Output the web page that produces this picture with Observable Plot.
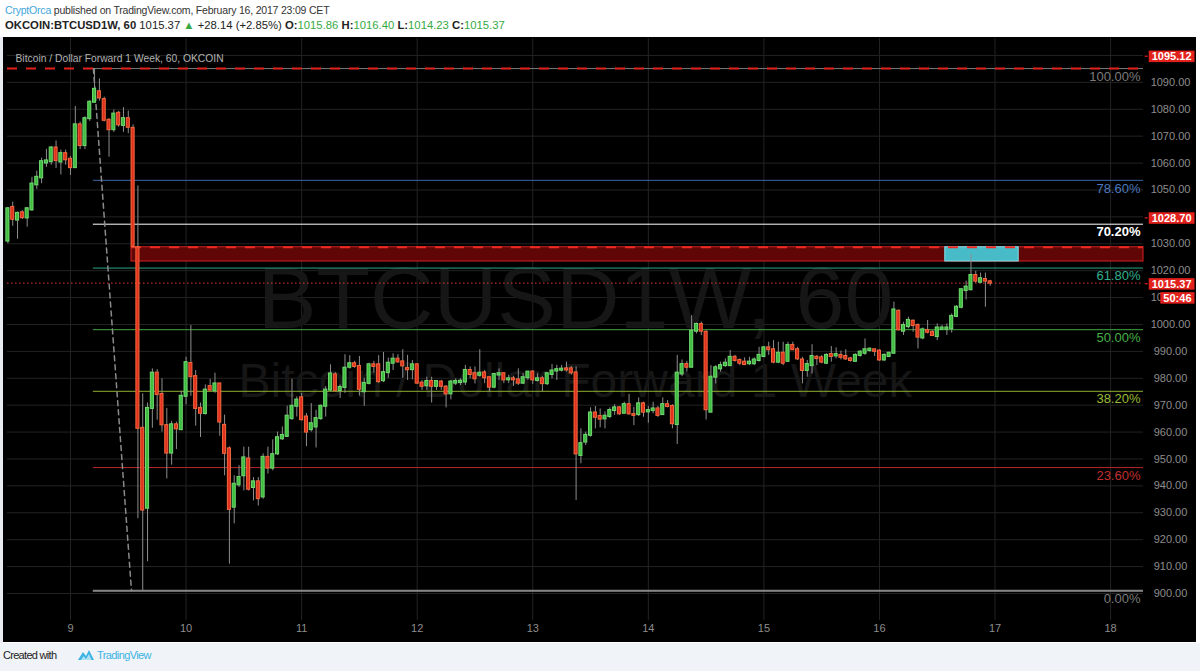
<!DOCTYPE html>
<html>
<head>
<meta charset="utf-8">
<script src="https://cdn.jsdelivr.net/npm/d3@7"></script>
<script src="https://cdn.jsdelivr.net/npm/@observablehq/plot@0.6"></script>
<style>
  html, body { margin: 0; padding: 0; }
  body { width: 1200px; height: 671px; overflow: hidden; background: #ffffff; position: relative;
         font-family: "Liberation Sans", Arial, sans-serif; }
  #h1 { position: absolute; left: 5px; top: 4px; font-size: 10.5px; letter-spacing: -0.2px; color: #333; white-space: nowrap; }
  #h2 { position: absolute; left: 5px; top: 19px; font-size: 11.3px; color: #222; white-space: nowrap; }
  #h2 .g { color: #36a944; }
  #chart { position: absolute; left: 3px; top: 37px; }
  #leftstrip { position: absolute; left: 0; top: 37px; width: 3px; height: 606px; background: #e9ecf0; }
  #footer { position: absolute; left: 0; top: 643px; width: 1200px; height: 28px; background: #f0f3f7; }
  #footer .t { position: absolute; left: 3px; top: 6px; font-size: 11px; letter-spacing: -0.7px; color: #222; }
  #footer .tv { position: absolute; left: 97px; top: 6px; font-size: 11px; letter-spacing: -0.6px; color: #3bb3e4; }
  #footer svg { position: absolute; left: 77px; top: 5px; }
</style>
</head>
<body>
<div id="h1"><span style="color:#3ea6d9">CryptOrca</span> published on TradingView.com, February 16, 2017 23:09 CET</div>
<div id="h2"><b>OKCOIN:BTCUSD1W, 60</b> 1015.37 <span class="g">▲</span> +28.14 (+2.85%) <b>O:</b><span class="g">1015.86</span> <b>H:</b><span class="g">1016.40</span> <b>L:</b><span class="g">1014.23</span> <b>C:</b><span class="g">1015.37</span></div>
<div id="leftstrip"></div>
<div id="chart"></div>
<div id="footer">
  <span class="t">Created with</span>
  <svg width="18" height="14" viewBox="0 0 18 14"><path d="M1 12 L6 4 L9 8 L12 2 L17 12 Z" fill="#3bb3e4"/><path d="M4 12 L6.5 8 L9 11 L12 6 L14.5 12 Z" fill="#ffffff" opacity="0.6"/></svg>
  <span class="tv">TradingView</span>
</div>
<script>
// ---------------- DATA ----------------
const startTime = "2017-02-08T11:00:00Z"; // first hourly candle
const opens = [1031.0,1043.5,1038.8,1041.5,1039.6,1042.6,1051.9,1054.5,1060.0,1060.5,1065.6,1060.4,1063.5,1061.4,1058.3,1074.2,1066.5,1076.5,1082.6,1086.5,1083.6,1075.9,1072.4,1078.5,1074.0,1076.5,1072.9,1028.5,961.4,931.7,968.8,981.9,974.0,962.4,952.2,962.7,960.9,973.3,985.5,980.6,968.8,966.9,976.9,975.4,977.9,962.5,953.75,932.1,940.4,943.75,950.0,939.4,941.5,935.9,950.6,946.6,951.9,957.5,958.4,965.0,969.6,972.75,965.6,960.9,961.9,965.0,969.6,975.6,981.25,975.4,976.6,984.1,985.4,984.4,975.0,978.1,985.0,985.0,979.1,982.1,985.6,987.1,986.1,983.6,983.2,985.0,978.2,977.2,978.8,977.0,978.6,976.7,974.2,978.2,978.4,978.6,982.9,981.7,981.1,982.0,980.2,976.7,981.2,981.7,979.4,979.8,979.4,978.2,980.2,982.3,979.2,979.8,978.0,981.4,982.7,983.0,983.5,983.5,982.0,951.3,956.3,958.8,967.1,965.8,964.9,965.8,968.0,969.0,967.0,970.2,966.5,966.5,970.5,967.5,968.0,968.6,966.5,970.2,969.5,962.8,981.6,985.1,984.1,997.5,1000.0,997.1,967.4,980.4,983.5,984.7,984.7,987.8,986.6,986.0,985.4,985.4,986.6,988.1,991.3,990.6,986.0,989.3,986.3,992.2,990.6,986.8,982.9,984.7,987.8,987.6,985.6,988.8,988.3,988.5,988.1,987.2,986.3,988.5,989.3,990.3,990.6,990.1,986.8,988.1,989.3,1004.9,997.5,999.2,1001.2,999.6,995.0,997.7,997.1,995.5,998.2,998.2,998.4,1003.0,1006.4,1012.6,1012.9,1018.2,1015.7,1016.7,1015.86];
const highs = [1043.5,1045.5,1041.8,1042.3,1043.5,1054.7,1057.0,1061.8,1065.1,1066.2,1068.2,1064.8,1064.8,1062.4,1081.0,1075.2,1077.2,1083.2,1095.12,1091.3,1084.5,1076.5,1079.7,1079.2,1080.6,1079.3,1074.2,1051.5,974.2,970.8,983.5,983.2,979.8,968.8,964.0,963.7,975.2,987.8,999.6,982.9,970.8,977.5,979.6,981.9,978.1,966.3,954.5,943.75,947.5,954.4,954.4,943.1,943.1,951.9,954.4,957.1,960.0,961.9,969.6,979.6,973.1,974.4,966.9,970.6,968.1,970.0,976.9,985.0,982.1,977.5,988.75,988.4,986.3,988.1,980.0,985.6,986.3,988.4,989.6,987.5,989.1,988.75,990.6,988.5,986.6,985.4,979.2,980.4,980.4,979.2,979.2,977.3,979.2,979.8,979.8,984.8,984.2,984.2,990.6,982.9,980.7,981.9,983.5,981.9,981.1,980.7,983.5,981.7,982.3,982.9,981.7,980.7,981.9,985.1,984.8,984.8,986.0,984.4,984.2,961.2,960.0,969.0,969.5,968.6,967.5,969.0,970.2,969.5,971.1,974.0,969.2,972.7,971.1,969.5,971.1,969.5,972.7,971.7,970.2,988.5,986.8,986.3,1003.3,1000.5,1000.9,997.7,984.7,984.7,986.0,987.2,990.3,988.5,987.2,987.6,987.8,987.6,991.5,991.8,993.4,994.0,993.4,993.4,993.4,993.4,991.5,987.8,986.6,992.5,988.5,988.5,989.1,991.8,991.3,990.1,990.6,987.8,989.1,990.3,994.6,991.3,990.6,990.6,989.1,989.7,1008.3,1005.4,1000.8,1002.7,1001.7,1000.2,998.7,1001.5,997.7,1000.2,999.6,1000.2,1003.9,1007.0,1013.2,1016.1,1026.0,1019.8,1019.1,1019.1,1016.40];
const lows = [1030.0,1036.5,1031.7,1039.0,1036.2,1042.0,1050.2,1052.3,1058.4,1059.2,1058.0,1055.6,1059.2,1055.4,1058.0,1065.0,1065.0,1075.5,1082.3,1083.0,1075.3,1062.2,1071.4,1073.3,1071.4,1070.9,1028.5,927.8,901.0,911.8,961.4,964.4,960.0,942.6,947.7,953.5,960.5,970.1,973.3,962.2,958.0,966.3,975.0,974.4,958.4,943.75,910.9,925.9,939.4,938.1,938.1,934.4,932.5,935.0,944.4,945.6,951.3,956.9,958.1,964.4,965.6,964.1,954.6,960.0,954.1,964.4,965.6,975.0,975.0,972.5,974.4,983.4,983.75,973.4,969.6,977.5,981.9,978.1,978.4,980.0,982.9,985.6,980.0,979.2,979.4,977.7,975.5,975.5,970.8,975.5,975.5,969.0,972.0,977.3,977.3,977.3,979.8,977.9,980.4,978.0,974.9,976.1,979.2,978.0,978.0,977.0,977.3,977.7,979.2,977.7,978.6,974.9,977.3,979.8,979.2,982.3,982.3,981.1,934.6,948.2,955.0,958.1,961.2,961.6,961.2,965.0,966.2,966.2,966.8,966.2,962.4,965.8,965.5,963.3,966.8,965.5,966.2,969.0,961.2,955.4,980.6,982.3,984.1,996.5,995.9,964.5,967.4,977.9,982.3,984.1,984.4,986.0,984.7,984.7,984.7,984.7,986.0,987.6,988.5,985.4,985.4,984.7,986.0,990.3,986.6,977.9,980.4,981.6,984.7,985.4,985.1,986.0,987.2,986.8,986.6,986.0,986.0,987.8,988.5,989.7,988.1,986.3,986.3,987.8,989.1,997.7,995.9,998.4,997.1,990.9,994.3,996.5,995.5,994.0,997.7,995.9,996.8,1002.5,1005.8,1009.1,1012.6,1015.3,1015.1,1006.4,1014.23];
const closes = [1043.0,1039.1,1041.3,1039.7,1043.0,1052.2,1054.7,1060.5,1060.8,1065.6,1060.9,1063.5,1061.2,1058.3,1074.2,1066.5,1076.5,1082.6,1087.4,1084.2,1075.9,1072.4,1078.2,1074.2,1076.5,1073.3,1029.1,961.4,931.0,968.8,981.9,974.0,962.7,952.2,962.7,961.2,973.3,985.8,980.6,968.8,967.0,975.6,975.6,977.9,963.75,952.1,931.25,940.6,943.1,950.4,938.75,941.5,935.25,950.6,946.6,951.6,957.9,958.75,965.9,969.6,971.9,964.6,960.0,963.1,965.0,969.6,975.6,981.6,975.4,976.6,983.75,985.4,984.4,975.9,978.1,985.0,984.4,978.75,982.1,985.6,987.1,986.1,984.6,983.2,985.0,978.2,977.0,978.8,977.0,978.8,977.0,974.2,978.6,978.8,978.9,982.9,981.4,979.8,981.9,980.2,976.7,981.4,981.7,979.4,979.8,979.4,978.2,980.2,982.3,979.4,979.8,978.0,981.7,982.7,983.2,983.4,983.1,982.0,951.9,955.7,958.8,967.1,965.5,964.8,965.9,968.0,969.0,966.8,970.2,966.8,966.2,970.5,967.4,968.0,968.6,966.2,970.2,969.5,963.1,981.9,985.1,984.1,997.5,1000.0,997.5,968.3,980.4,983.9,984.7,985.6,987.8,986.6,985.6,985.1,986.0,986.8,988.5,991.3,990.6,986.0,989.3,985.6,992.2,990.6,987.2,982.9,985.1,988.1,987.3,986.0,988.5,988.1,988.8,987.8,987.2,986.6,988.5,989.7,990.6,990.8,990.0,986.8,988.5,989.3,1005.4,998.0,999.6,1001.5,999.6,995.3,998.0,997.1,995.9,998.7,998.7,998.7,1003.0,1006.4,1012.9,1013.9,1018.2,1016.1,1017.0,1016.1,1015.37];

// Fibonacci retracement (drawn from the high to the low)
const fibHigh = 1095.12;
const fibLow = 901.0;
const fibRatios = [0, 0.236, 0.382, 0.5, 0.618, 0.702, 0.786, 1];
const fibLabels = ["0.00%", "23.60%", "38.20%", "50.00%", "61.80%", "70.20%", "78.60%", "100.00%"];
const fibLineColors = ["#7a7a7a", "#b3262b", "#8fae2e", "#3fa842", "#2ea585", "#ffffff", "#3f67a6", "#7a7a7a"];
const fibTextColors = ["#7a7a7a", "#c0302f", "#9cba36", "#46b046", "#33b08e", "#ffffff", "#4c78bd", "#7a7a7a"];
const fibStartTime = "2017-02-09T04:45:00Z";
const fibEndTime = "2017-02-09T12:40:00Z";

// Resistance zone and target box
const zoneLow = 1023.4;
const zoneHigh = 1028.7;
const zoneStartTime = "2017-02-09T12:40:00Z";
const boxStartTime = "2017-02-16T13:40:00Z";
const boxEndTime = "2017-02-17T04:55:00Z";
const lastPrice = 1015.37;

// Axis ticks (1040 and 1100 are hidden behind price tags in the original)
const priceTicks = [900, 910, 920, 930, 940, 950, 960, 970, 980, 990, 1000, 1010, 1020, 1030, 1040, 1050, 1060, 1070, 1080, 1090, 1100];
const priceLabelTicks = [900, 910, 920, 930, 940, 950, 960, 970, 980, 990, 1000, 1010, 1020, 1030, 1050, 1060, 1070, 1080, 1090];
const dayTicks = ["2017-02-09", "2017-02-10", "2017-02-11", "2017-02-12", "2017-02-13", "2017-02-14", "2017-02-15", "2017-02-16", "2017-02-17", "2017-02-18"];
const tagHigh = {v: 1095.12, label: "1095.12"};
const tagLine = {v: 1028.70, label: "1028.70"};
const tagLast = {v: 1015.37, label: "1015.37"};
const countdownLabel = "50:46";
const titleText = "Bitcoin / Dollar Forward 1 Week, 60, OKCOIN";
const watermark1 = "BTCUSD1W, 60";
const watermark2 = "Bitcoin / Dollar Forward 1 Week";

// ---------------- BUILD ----------------
const HOUR = 3600e3;
const t0 = Date.parse(startTime);
const candles = opens.map((o, i) => ({
  t: new Date(t0 + i * HOUR),
  o, h: highs[i], l: lows[i], c: closes[i],
  up: closes[i] >= o
}));
const fibs = fibRatios.map((r, i) => ({
  v: fibLow + r * (fibHigh - fibLow),
  label: fibLabels[i], line: fibLineColors[i], text: fibTextColors[i]
}));
const xStart = new Date("2017-02-08T10:55:00Z");
const xEnd = new Date("2017-02-18T06:50:00Z");
const fibStart = new Date(fibStartTime), fibEnd = new Date(fibEndTime);
const zoneStart = new Date(zoneStartTime);
const days = dayTicks.map(d => new Date(d + "T00:00:00Z"));
const halfW = 0.32 * HOUR;
const TAG = "#fffffe";
const tagText = (d, dy) => Plot.text([d], {y: "v", frameAnchor: "right", dx: 48, dy, textAnchor: "end", text: "label", fill: TAG, fontWeight: "bold", fontSize: 11});

const W = 1193, H = 605;
const plot = Plot.plot({
  width: W, height: H,
  marginLeft: 4, marginRight: 53, marginTop: 1, marginBottom: 22,
  x: {type: "utc", domain: [xStart, xEnd], axis: null},
  y: {domain: [889.96, 1106.3], axis: null},
  color: {type: "identity"},
  style: {background: "#000000", fontFamily: "'Liberation Sans', Arial, sans-serif", overflow: "visible"},
  marks: [
    // grid
    Plot.ruleY(priceTicks, {y: d => d, stroke: "#232323", strokeWidth: 1}),
    Plot.ruleX(days, {x: d => d, stroke: "#232323", strokeWidth: 1}),
    // watermark
    Plot.text([watermark1], {frameAnchor: "middle", dy: -30, text: d => d, fontSize: 88, fill: "#161616"}),
    Plot.text([watermark2], {frameAnchor: "middle", dy: 52, text: d => d, fontSize: 48, fill: "#161616"}),
    // resistance zone
    Plot.rect([0], {x1: () => zoneStart, x2: () => xEnd, y1: () => zoneLow, y2: () => zoneHigh, fill: "#600606", stroke: "#d42222", strokeWidth: 1}),
    Plot.rect([0], {x1: () => new Date(boxStartTime), x2: () => new Date(boxEndTime), y1: () => zoneLow, y2: () => zoneHigh, fill: "#47bcc8", stroke: "#86dde5", strokeWidth: 1}),
    // fib lines
    Plot.ruleY(fibs, {y: "v", x1: () => fibStart, x2: () => xEnd, stroke: "line", strokeWidth: 1}),
    Plot.ruleY(fibs.filter(f => f.v === fibLow), {y: "v", x1: () => fibStart, x2: () => xEnd, stroke: "#858585", strokeWidth: 2}),
    Plot.line([{t: fibStart, v: fibHigh}, {t: fibEnd, v: fibLow}], {x: "t", y: "v", stroke: "#8a8a8a", strokeWidth: 1.5, strokeDasharray: "5,4"}),
    // dashed horizontal lines
    Plot.ruleY([fibHigh], {y: d => d, stroke: "#e3211c", strokeWidth: 2, strokeDasharray: "10,9"}),
    Plot.ruleY([zoneHigh], {y: d => d, x1: () => zoneStart, x2: () => xEnd, stroke: "#ee2a22", strokeWidth: 2, strokeDasharray: "10,9"}),
    Plot.ruleY([lastPrice], {y: d => d, stroke: "#e53935", strokeWidth: 1, strokeDasharray: "1.5,2.5"}),
    // candles
    Plot.ruleX(candles, {x: "t", y1: "l", y2: "h", stroke: "#8e8e8e", strokeWidth: 1}),
    Plot.rect(candles, {
      x1: d => new Date(+d.t - halfW), x2: d => new Date(+d.t + halfW),
      y1: d => Math.min(d.o, d.c), y2: d => Math.max(d.o, d.c),
      fill: d => d.up ? "#3fbd3f" : "#e2301f",
      stroke: d => d.up ? "#72d872" : "#f26a3e",
      strokeWidth: 1, insetTop: -0.5, insetBottom: -0.5
    }),
    // fib labels
    Plot.text(fibs.filter(f => f.label !== "70.20%"), {y: "v", frameAnchor: "right", textAnchor: "end", dx: -3, dy: 8, text: "label", fill: "text", fontSize: 13}),
    Plot.text(fibs.filter(f => f.label === "70.20%"), {y: "v", frameAnchor: "right", textAnchor: "end", dx: -3, dy: 8, text: "label", fill: "text", fontSize: 13, fontWeight: "bold"}),
    // title
    Plot.text([titleText], {frameAnchor: "top-left", dx: 8, dy: 16, text: d => d, fill: "#b2b2b2", fontSize: 10.3, textAnchor: "start"}),
    // price axis labels
    Plot.text(priceLabelTicks, {y: d => d, frameAnchor: "right", dx: 27, textAnchor: "middle", text: d => d.toFixed(2), fill: "#8d8d8d", fontSize: 11}),
    // time axis labels
    Plot.text(days, {x: d => d, frameAnchor: "bottom", dy: 11, text: d => String(d.getUTCDate()), fill: "#8d8d8d", fontSize: 11}),
    // price tags (red boxes added after render)
    tagText(tagHigh, -12),
    tagText(tagLine, -29),
    tagText(tagLast, 1),
    Plot.text([countdownLabel], {y: () => lastPrice, frameAnchor: "right", dx: 48, dy: 15, textAnchor: "end", text: d => d, fill: TAG, fontWeight: "bold", fontSize: 11})
  ]
});
document.getElementById("chart").appendChild(plot);

// red backgrounds (with a small tick) behind the price tags
const NS = "http://www.w3.org/2000/svg";
plot.querySelectorAll('g[fill="' + TAG + '"] text').forEach(t => {
  const b = t.getBBox();
  const tr = t.getAttribute("transform");
  const r = document.createElementNS(NS, "rect");
  r.setAttribute("x", b.x - 3);
  r.setAttribute("y", b.y + 0.5);
  r.setAttribute("width", b.width + 6);
  r.setAttribute("height", b.height - 0.5);
  r.setAttribute("fill", "#e3211c");
  if (tr) r.setAttribute("transform", tr);
  t.parentNode.insertBefore(r, t);
  if (t.textContent.indexOf(":") < 0) {
    const l = document.createElementNS(NS, "rect");
    l.setAttribute("x", b.x - 7);
    l.setAttribute("y", b.y + b.height / 2 - 0.5);
    l.setAttribute("width", 3);
    l.setAttribute("height", 1.2);
    l.setAttribute("fill", "#e3211c");
    if (tr) l.setAttribute("transform", tr);
    t.parentNode.insertBefore(l, t);
  }
});
</script>
</body>
</html>
